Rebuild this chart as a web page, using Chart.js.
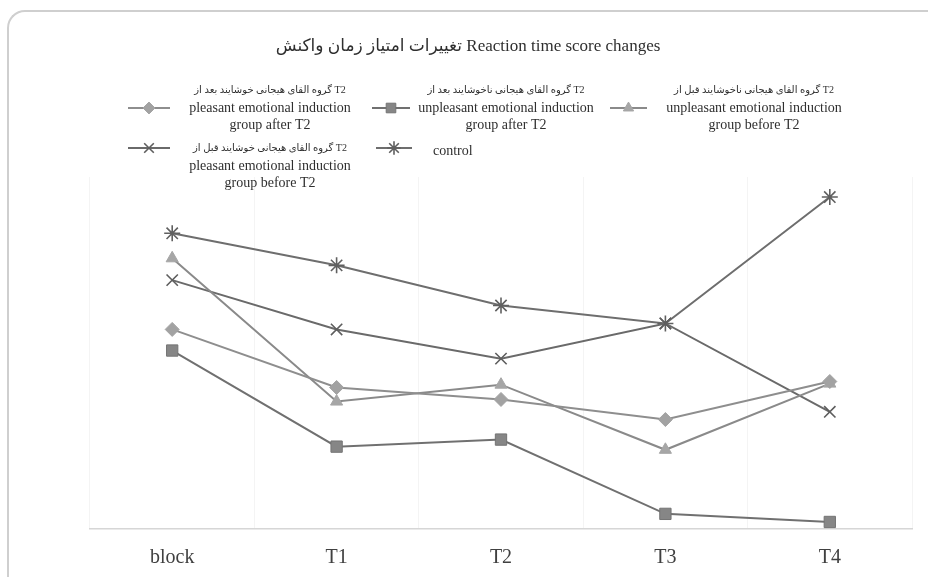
<!DOCTYPE html>
<html>
<head>
<meta charset="utf-8">
<script src="https://cdn.jsdelivr.net/npm/chart.js@4.4.0/dist/chart.umd.min.js"></script>
<style>
  html, body { margin: 0; padding: 0; background: #fff; }
  #wrap { position: relative; width: 928px; height: 577px; overflow: hidden; }
  #frame {
    position: absolute; left: 7px; top: 10px; width: 940px; height: 600px;
    border-top: 2px solid #cfcfcf; border-left: 2px solid #cfcfcf;
    border-top-left-radius: 18px;
  }
  canvas { position: absolute; left: 0; top: 0; }
</style>
</head>
<body>
<div id="wrap">
  <div id="frame"></div>
  <canvas id="rt-chart" width="928" height="577"></canvas>
</div>
<script>
// categories on the x axis
const timePoints = ['block', 'T1', 'T2', 'T3', 'T4'];

// series values (arbitrary units, no y axis shown)
const pleasantAfter   = [56.7, 40.2, 36.8, 31.1, 41.9];
const unpleasantAfter = [50.7, 23.4, 25.4, 4.3, 2.0];
const unpleasantBefore = [76.9, 36.2, 41.0, 22.5, 41.3];
const pleasantBefore  = [70.7, 56.7, 48.4, 58.4, 33.3];
const controlGroup    = [84.0, 74.9, 63.5, 58.4, 94.3];

// legend texts
const persianNames = [
  'گروه القای هیجانی خوشایند بعد از T2',
  'گروه القای هیجانی ناخوشایند بعد از T2',
  'گروه القای هیجانی ناخوشایند قبل از T2',
  'گروه القای هیجانی خوشایند قبل از T2',
  ''
];
const englishNames = [
  ['pleasant emotional induction', 'group after T2'],
  ['unpleasant emotional induction', 'group after T2'],
  ['unpleasant emotional induction', 'group before T2'],
  ['pleasant emotional induction', 'group before T2'],
  ['control']
];

const chartTitle = 'تغییرات امتیاز زمان واکنش Reaction time score changes';

const serif = "'Liberation Serif', 'DejaVu Serif', 'DejaVu Sans', serif";

// legend layout: sample line x-range, y, text anchor
const legendSlots = [
  { x1: 128, x2: 170, y: 108, tx: 270, ty: 90, align: 'center' },
  { x1: 372, x2: 410, y: 108, tx: 506, ty: 90, align: 'center' },
  { x1: 610, x2: 647, y: 108, tx: 754, ty: 90, align: 'center' },
  { x1: 128, x2: 170, y: 148, tx: 270, ty: 148, align: 'center' },
  { x1: 376, x2: 412, y: 148, tx: 433, ty: 151, align: 'left' }
];

const headerPlugin = {
  id: 'header',
  afterDraw(chart) {
    const ctx = chart.ctx;
    ctx.save();
    ctx.direction = 'ltr';
    ctx.textBaseline = 'middle';
    ctx.fillStyle = '#2f2f2f';
    ctx.textAlign = 'center';
    ctx.font = '17px ' + serif;
    ctx.fillText(chartTitle, 468, 47);

    chart.data.datasets.forEach((ds, i) => {
      const s = legendSlots[i];
      ctx.strokeStyle = ds.borderColor;
      ctx.lineWidth = 2;
      ctx.beginPath();
      ctx.moveTo(s.x1, s.y);
      ctx.lineTo(s.x2, s.y);
      ctx.stroke();
      if (Chart.helpers && Chart.helpers.drawPoint) {
        ctx.fillStyle = ds.pointBackgroundColor;
        ctx.strokeStyle = ds.pointBorderColor;
        ctx.lineWidth = ds.pointBorderWidth;
        Chart.helpers.drawPoint(ctx, {
          pointStyle: ds.pointStyle,
          radius: ds.pointRadius * 0.85,
          borderWidth: ds.pointBorderWidth,
          rotation: 0
        }, (s.x1 + s.x2) / 2, s.y);
      }
      ctx.fillStyle = '#2f2f2f';
      ctx.textAlign = s.align;
      let y = s.ty;
      if (persianNames[i]) {
        ctx.font = '10px ' + serif;
        ctx.fillText(persianNames[i], s.tx, y);
        y += 18;
      }
      ctx.font = '14px ' + serif;
      englishNames[i].forEach(line => {
        ctx.fillText(line, s.tx, y);
        y += 17;
      });
    });
    ctx.restore();
  }
};

new Chart(document.getElementById('rt-chart'), {
  type: 'line',
  data: {
    labels: timePoints,
    datasets: [
      {
        label: englishNames[0].join(' '),
        data: pleasantAfter,
        borderColor: '#8e8e8e',
        pointStyle: 'rectRot',
        pointRadius: 7,
        pointBackgroundColor: '#a2a2a2',
        pointBorderColor: '#a2a2a2',
        pointBorderWidth: 1
      },
      {
        label: englishNames[1].join(' '),
        data: unpleasantAfter,
        borderColor: '#707070',
        pointStyle: 'rect',
        pointRadius: 8,
        pointBackgroundColor: '#868686',
        pointBorderColor: '#747474',
        pointBorderWidth: 1
      },
      {
        label: englishNames[2].join(' '),
        data: unpleasantBefore,
        borderColor: '#8a8a8a',
        pointStyle: 'triangle',
        pointRadius: 7,
        pointBackgroundColor: '#a6a6a6',
        pointBorderColor: '#a6a6a6',
        pointBorderWidth: 1
      },
      {
        label: englishNames[3].join(' '),
        data: pleasantBefore,
        borderColor: '#6a6a6a',
        pointStyle: 'crossRot',
        pointRadius: 8,
        pointBackgroundColor: '#5e5e5e',
        pointBorderColor: '#5e5e5e',
        pointBorderWidth: 1.6
      },
      {
        label: englishNames[4][0],
        data: controlGroup,
        borderColor: '#6e6e6e',
        pointStyle: 'star',
        pointRadius: 8,
        pointBackgroundColor: '#606060',
        pointBorderColor: '#606060',
        pointBorderWidth: 1.6
      }
    ].map(d => Object.assign({ borderWidth: 2, tension: 0, fill: false }, d))
  },
  options: {
    responsive: false,
    animation: false,
    layout: { padding: { left: 90, right: 16, top: 177, bottom: -10 } },
    plugins: {
      legend: { display: false },
      tooltip: { enabled: false },
      title: { display: false }
    },
    scales: {
      x: {
        offset: true,
        grid: { offset: true, color: 'rgba(0,0,0,0.045)', drawTicks: false },
        border: { color: '#d6d6d6', width: 1.5 },
        ticks: { color: '#404040', padding: 17, font: { family: serif, size: 20 } }
      },
      y: { display: false, min: 0, max: 100 }
    }
  },
  plugins: [headerPlugin]
});
</script>
</body>
</html>
